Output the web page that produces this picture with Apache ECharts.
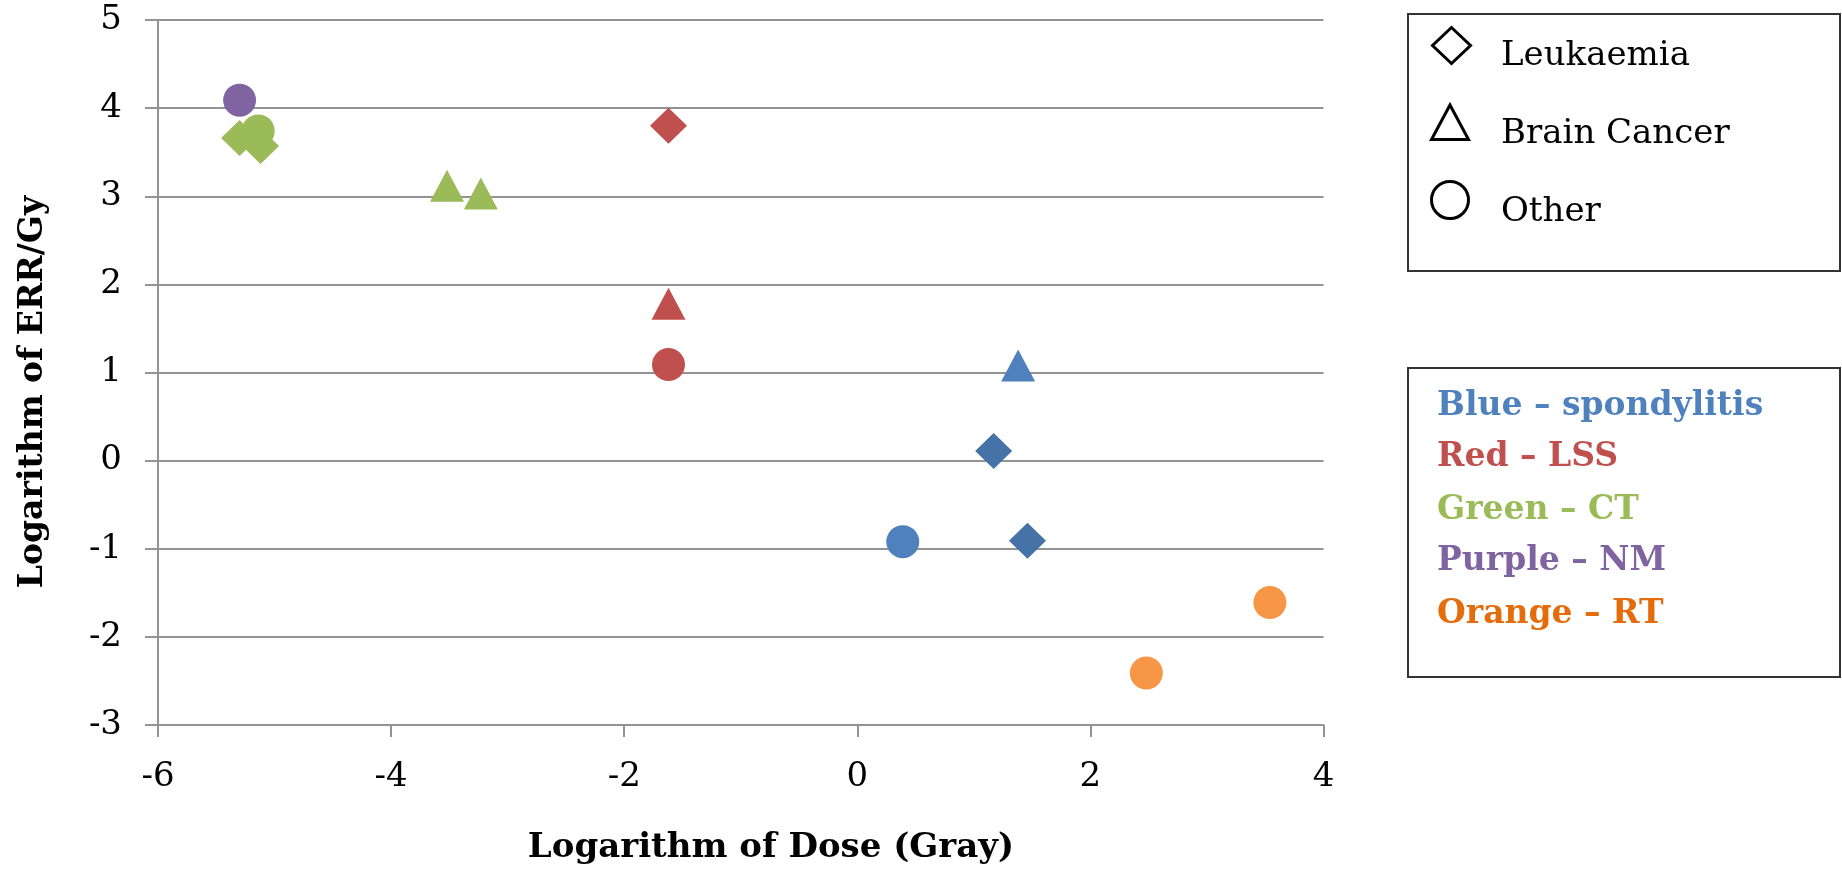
<!DOCTYPE html>
<html>
<head>
<meta charset="utf-8">
<title>Excess relative risk per Gy against dose</title>
<script src="https://cdn.jsdelivr.net/npm/echarts@6/dist/echarts.min.js"></script>
<style>
  html, body { margin: 0; padding: 0; background: #fff; }
  #chart { width: 1842px; height: 878px; }
</style>
</head>
<body>
<div id="chart"></div>
<script>
// Log dose (Gray) and log ERR/Gy, grouped by cancer type; each point tagged with its study.
const leukaemiaX   = [1.17, 1.46, -1.62, -5.30, -5.12];
const leukaemiaY   = [0.11, -0.91, 3.80, 3.66, 3.57];
const leukaemiaSrc = ['spondylitis', 'spondylitis', 'LSS', 'CT', 'CT'];

const brainX   = [1.38, -1.62, -3.52, -3.23];
const brainY   = [1.08, 1.78, 3.12, 3.03];
const brainSrc = ['spondylitis', 'LSS', 'CT', 'CT'];

const otherX   = [0.39, -1.62, -5.14, -5.30, 3.54, 2.48];
const otherY   = [-0.92, 1.09, 3.74, 4.09, -1.61, -2.41];
const otherSrc = ['spondylitis', 'LSS', 'CT', 'NM', 'RT', 'RT'];

const cancerTypes = ['Leukaemia', 'Brain Cancer', 'Other'];
const studyKey = ['Blue – spondylitis', 'Red – LSS', 'Green – CT', 'Purple – NM', 'Orange – RT'];

const xTicks = { min: -6, max: 4, step: 2 };
const yTicks = { min: -3, max: 5, step: 1 };

// Styling
const FONT = 'DejaVu Serif';
const studyColour = {
  spondylitis: '#4F81BD', LSS: '#C0504D', CT: '#9BBB59', NM: '#8064A2', RT: '#F79646'
};
const leukaemiaColour = Object.assign({}, studyColour, { spondylitis: '#4572A7' });
const keyColours = ['#4F81BD', '#C0504D', '#9BBB59', '#8064A2', '#E46C0A'];
const GRID_GREY = '#939393';

function points(xs, ys, srcs, palette) {
  return xs.map((x, i) => ({ value: [x, ys[i]], itemStyle: { color: palette[srcs[i]], opacity: 1 } }));
}

const chart = echarts.init(document.getElementById('chart'), null, { renderer: 'canvas' });

// Shape key (top box) and study colour key (lower box)
const keyGraphics = [
  { type: 'rect', shape: { x: 1408, y: 14, width: 432, height: 257 },
    style: { fill: '#fff', stroke: '#333', lineWidth: 2 }, z: 1 },
  { type: 'polygon', shape: { points: [[1451.5, 27.5], [1470.5, 45.5], [1451.5, 63.5], [1432.5, 45.5]] },
    style: { fill: 'none', stroke: '#000', lineWidth: 3 }, z: 2 },
  { type: 'polygon', shape: { points: [[1450, 105], [1468.5, 139.5], [1431.5, 139.5]] },
    style: { fill: 'none', stroke: '#000', lineWidth: 3 }, z: 2 },
  { type: 'circle', shape: { cx: 1450, cy: 200, r: 18.5 },
    style: { fill: 'none', stroke: '#000', lineWidth: 3 }, z: 2 },
  { type: 'rect', shape: { x: 1408, y: 368, width: 432, height: 309 },
    style: { fill: '#fff', stroke: '#333', lineWidth: 2 }, z: 1 }
];
const shapeRows = [56, 134.5, 212];
cancerTypes.forEach((t, i) => {
  keyGraphics.push({ type: 'text', x: 1501, y: shapeRows[i], z: 2,
    style: { text: t, font: '34px "' + FONT + '"', fill: '#000', verticalAlign: 'middle', align: 'left' } });
});
const studyRows = [406, 457, 510, 561, 614];
studyKey.forEach((t, i) => {
  keyGraphics.push({ type: 'text', x: 1437, y: studyRows[i], z: 2,
    style: { text: t, font: 'bold 33px "' + FONT + '"', fill: keyColours[i], verticalAlign: 'middle', align: 'left' } });
});
// Axis titles
keyGraphics.push({ type: 'text', x: 771, y: 848, z: 2,
  style: { text: 'Logarithm of Dose (Gray)', font: 'bold 34px "' + FONT + '"', fill: '#000', align: 'center', verticalAlign: 'middle' } });
keyGraphics.push({ type: 'text', x: 33, y: 392, rotation: Math.PI / 2, z: 2,
  style: { text: 'Logarithm of ERR/Gy', font: 'bold 33px "' + FONT + '"', fill: '#000', align: 'center', verticalAlign: 'middle' } });

const option = {
  animation: false,
  backgroundColor: '#fff',
  grid: { left: 158, top: 20, width: 1165.5, height: 705, containLabel: false },
  xAxis: {
    type: 'value', min: xTicks.min, max: xTicks.max, interval: xTicks.step,
    axisLine: { show: true, onZero: false, lineStyle: { color: GRID_GREY, width: 2 } },
    axisTick: { show: true, inside: false, length: 12, lineStyle: { color: GRID_GREY, width: 2 } },
    axisLabel: { margin: 35, fontFamily: FONT, fontSize: 34, color: '#000' },
    splitLine: { show: false }
  },
  yAxis: {
    type: 'value', min: yTicks.min, max: yTicks.max, interval: yTicks.step,
    axisLine: { show: true, onZero: false, lineStyle: { color: GRID_GREY, width: 2 } },
    axisTick: { show: true, inside: false, length: 13, lineStyle: { color: GRID_GREY, width: 2 } },
    axisLabel: { margin: 36, fontFamily: FONT, fontSize: 34, color: '#000' },
    splitLine: { show: true, lineStyle: { color: GRID_GREY, width: 2 } }
  },
  graphic: keyGraphics,
  series: [
    { type: 'scatter', name: cancerTypes[2], symbol: 'circle', symbolSize: 33,
      itemStyle: { opacity: 1 }, data: points(otherX, otherY, otherSrc, studyColour) },
    { type: 'scatter', name: cancerTypes[1], symbol: 'triangle', symbolSize: [34, 32],
      itemStyle: { opacity: 1 }, data: points(brainX, brainY, brainSrc, studyColour) },
    { type: 'scatter', name: cancerTypes[0], symbol: 'diamond', symbolSize: [37, 36],
      itemStyle: { opacity: 1 }, data: points(leukaemiaX, leukaemiaY, leukaemiaSrc, leukaemiaColour) }
  ]
};

chart.setOption(option);
</script>
</body>
</html>
